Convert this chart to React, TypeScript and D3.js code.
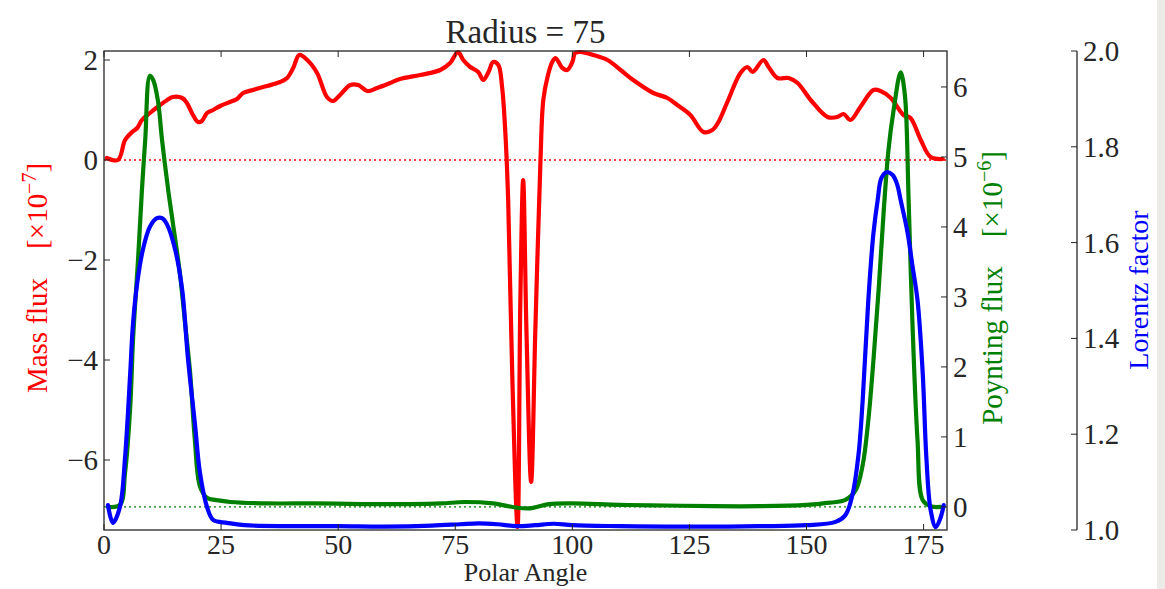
import React from "react";
import * as d3 from "d3";

// polar angle samples (deg) and values
const massAngle = [0.6, 3.0, 4.5, 6.0, 7.1, 8.1, 9.8, 12.0, 13.5, 14.7, 16.7, 17.7, 19.0, 20.1, 20.9, 22.0, 23.3, 24.8, 26.9, 28.4, 29.7, 31.8, 34.8, 37.6, 39.1, 40.4, 41.7, 43.4, 45.5, 47.6, 48.9, 50.4, 52.6, 54.3, 56.2, 58.3, 61.1, 63.2, 67.5, 71.8, 73.9, 75.6, 76.7, 78.2, 79.9, 81.0, 82.1, 83.1, 84.2, 85.0, 85.7, 86.3, 87.2, 88.3, 88.9, 89.5, 90.2, 91.2, 92.1, 93.2, 93.8, 94.7, 95.7, 96.4, 97.9, 98.9, 100.0, 100.6, 101.7, 104.5, 107.5, 110.3, 113.0, 117.3, 120.3, 122.4, 125.2, 128.0, 129.9, 131.2, 133.1, 135.9, 137.4, 138.5, 140.8, 141.9, 143.8, 146.2, 148.1, 150.9, 154.5, 156.6, 157.9, 159.4, 161.5, 164.3, 165.8, 168.0, 170.7, 172.2, 174.4, 176.5, 179.1];
const massFlux = [0.04, 0.0, 0.4, 0.56, 0.64, 0.8, 0.94, 1.1, 1.2, 1.26, 1.24, 1.14, 0.9, 0.76, 0.78, 0.94, 1.0, 1.08, 1.16, 1.22, 1.34, 1.4, 1.48, 1.56, 1.64, 1.84, 2.1, 2.0, 1.74, 1.26, 1.18, 1.3, 1.5, 1.5, 1.38, 1.44, 1.54, 1.62, 1.7, 1.8, 1.94, 2.16, 2.0, 1.86, 1.76, 1.6, 1.76, 1.96, 1.9, 1.46, 0.54, -0.8, -4.4, -7.34, -2.8, -0.4, -3.4, -6.44, -3.4, 0.0, 1.2, 1.66, 1.96, 2.04, 1.84, 1.8, 1.96, 2.14, 2.16, 2.1, 2.0, 1.8, 1.6, 1.34, 1.24, 1.1, 0.9, 0.56, 0.6, 0.76, 1.16, 1.74, 1.86, 1.76, 2.0, 1.86, 1.64, 1.64, 1.54, 1.2, 0.86, 0.86, 0.92, 0.8, 1.06, 1.4, 1.38, 1.24, 0.9, 0.84, 0.4, 0.06, 0.02];

const poyntAngle = [0.85, 3.4, 4.5, 5.6, 6.2, 7.3, 8.1, 8.8, 9.8, 10.5, 11.5, 12.4, 13.7, 14.7, 16.2, 17.3, 18.4, 19.4, 20.5, 22.0, 24.8, 27.0, 35, 45, 55, 65, 72, 77, 83, 88, 91, 95, 100, 110, 120, 130, 140, 150, 155, 158.3, 160.5, 162.0, 163.2, 164.3, 165.4, 166.5, 167.5, 168.6, 170.1, 171.0, 171.8, 172.6, 173.7, 174.8, 176.5, 178.6];
const poyntFlux = [0.0, 0.03, 0.49, 1.43, 2.39, 3.57, 4.53, 5.24, 6.16, 6.1, 5.81, 5.24, 4.53, 4.06, 3.34, 2.63, 1.91, 0.96, 0.29, 0.13, 0.09, 0.07, 0.05, 0.05, 0.04, 0.04, 0.05, 0.07, 0.05, -0.01, -0.02, 0.04, 0.05, 0.03, 0.02, 0.01, 0.01, 0.03, 0.06, 0.1, 0.24, 0.6, 1.24, 2.1, 3.1, 4.24, 5.1, 5.67, 6.21, 5.89, 4.39, 2.67, 0.96, 0.1, 0.01, 0.0];

const lorAngle = [0.85, 1.9, 3.4, 4.5, 5.6, 6.2, 7.1, 8.3, 9.8, 11.3, 12.4, 13.5, 15.2, 16.7, 17.9, 19.4, 20.5, 22.0, 23.3, 26.3, 30, 40, 50, 60, 70, 76, 80, 84, 88, 92, 96, 100, 110, 120, 130, 140, 150, 156.2, 158.3, 159.8, 161.1, 162.0, 163.2, 164.3, 165.2, 166.0, 167.1, 168.4, 169.4, 170.1, 171.6, 172.6, 173.7, 174.8, 175.6, 176.5, 177.6, 178.6, 179.3];
const lorentz = [1.052, 1.015, 1.048, 1.152, 1.328, 1.432, 1.516, 1.585, 1.633, 1.651, 1.651, 1.637, 1.585, 1.501, 1.361, 1.223, 1.119, 1.048, 1.021, 1.015, 1.01, 1.008, 1.008, 1.007, 1.009, 1.012, 1.014, 1.012, 1.008, 1.01, 1.013, 1.01, 1.008, 1.007, 1.007, 1.008, 1.01, 1.017, 1.031, 1.073, 1.157, 1.271, 1.48, 1.62, 1.689, 1.735, 1.747, 1.741, 1.72, 1.689, 1.62, 1.553, 1.48, 1.33, 1.15, 1.042, 1.006, 1.025, 1.052];

const xTicks = [0, 25, 50, 75, 100, 125, 150, 175];
const massTicks = [2, 0, -2, -4, -6];
const poyntTicks = [0, 1, 2, 3, 4, 5, 6];
const lorTicks = [1.0, 1.2, 1.4, 1.6, 1.8, 2.0];

const W = 1165;
const H = 589;
const left = 104;
const right = 947;
const top = 51;
const bottom = 530;
const lorX = 1077;
const font = "'Liberation Serif', 'Times New Roman', serif";
const ink = "#262626";

export default function App() {
  const x = d3.scaleLinear().domain([0, 180]).range([left, right]);
  const yMass = d3.scaleLinear().domain([-7.4, 2.18]).range([bottom, top]);
  const yPoynt = d3.scaleLinear().domain([-0.33, 6.514]).range([bottom, top]);
  const yLor = d3.scaleLinear().domain([1.0, 2.0]).range([bottom, top]);

  const mk = (xs: number[], ys: number[], sy: d3.ScaleLinear<number, number>) =>
    d3
      .line<number>()
      .x((_, i) => x(xs[i]))
      .y((v) => sy(v))
      .curve(d3.curveCatmullRom.alpha(0.5))(ys) || "";

  const fmt = (v: number) => (v < 0 ? "\u2212" + Math.abs(v) : String(v));

  return (
    <div style={{ position: "absolute", left: 0, top: 0 }}>
      <svg width={W} height={H} style={{ display: "block", background: "#fff" }}>
        <rect x={1157} y={0} width={8} height={H} fill="#ecebe8" />
        <defs>
          <clipPath id="plot">
            <rect x={left} y={top - 3} width={right - left} height={bottom - top + 3} />
          </clipPath>
        </defs>

        {/* zero reference lines */}
        <line x1={left} x2={right} y1={yMass(0)} y2={yMass(0)} stroke="#ff0000" strokeWidth={1.4} strokeDasharray="2,3" />
        <line x1={left} x2={right} y1={yPoynt(0)} y2={yPoynt(0)} stroke="#008000" strokeWidth={1.4} strokeDasharray="2,3" />

        <g clipPath="url(#plot)" fill="none" strokeWidth={4.2} strokeLinejoin="round" strokeLinecap="round">
          <path d={mk(massAngle, massFlux, yMass)} stroke="#ff0000" />
          <path d={mk(poyntAngle, poyntFlux, yPoynt)} stroke="#008000" />
          <path d={mk(lorAngle, lorentz, yLor)} stroke="#0000ff" />
        </g>

        {/* frame */}
        <rect x={left} y={top} width={right - left} height={bottom - top} fill="none" stroke={ink} strokeWidth={1.3} />

        {/* x ticks bottom + top */}
        {xTicks.map((t) => (
          <g key={"x" + t}>
            <line x1={x(t)} x2={x(t)} y1={bottom} y2={bottom - 6} stroke={ink} />
            <line x1={x(t)} x2={x(t)} y1={top} y2={top + 6} stroke={ink} />
            <text x={x(t)} y={554} textAnchor="middle" fontSize={28} fontFamily={font} fill={ink}>
              {t}
            </text>
          </g>
        ))}

        {/* mass flux axis */}
        {massTicks.map((t) => (
          <g key={"m" + t}>
            <line x1={left} x2={left + 6} y1={yMass(t)} y2={yMass(t)} stroke={ink} />
            <text x={left - 6} y={yMass(t) + 10} textAnchor="end" fontSize={29} fontFamily={font} fill={ink}>
              {fmt(t)}
            </text>
          </g>
        ))}

        {/* poynting axis */}
        {poyntTicks.map((t) => (
          <g key={"p" + t}>
            <line x1={right} x2={right - 6} y1={yPoynt(t)} y2={yPoynt(t)} stroke={ink} />
            <text x={right + 6} y={yPoynt(t) + 10} fontSize={29} fontFamily={font} fill={ink}>
              {t}
            </text>
          </g>
        ))}

        {/* lorentz axis */}
        <line x1={lorX} x2={lorX} y1={top} y2={bottom} stroke={ink} strokeWidth={1.3} />
        {lorTicks.map((t) => (
          <g key={"l" + t}>
            <line x1={lorX} x2={lorX - 6} y1={yLor(t)} y2={yLor(t)} stroke={ink} />
            <text x={lorX + 6} y={yLor(t) + 10} fontSize={29} fontFamily={font} fill={ink}>
              {t.toFixed(1)}
            </text>
          </g>
        ))}

        {/* labels */}
        <text x={(left + right) / 2} y={43} textAnchor="middle" fontSize={33} fontFamily={font} fill={ink}>
          Radius = 75
        </text>
        <text x={(left + right) / 2} y={581} textAnchor="middle" fontSize={26} fontFamily={font} fill={ink}>
          Polar Angle
        </text>
        <text transform="translate(47,278) rotate(-90)" textAnchor="middle" fontSize={29} fontFamily={font} fill="#ff0000" style={{ whiteSpace: "pre" }}>
          {"Mass flux    [\u00d710"}
          <tspan dy={-11} fontSize={20}>{"\u22127"}</tspan>
          <tspan dy={11}>]</tspan>
        </text>
        <text transform="translate(1002,288) rotate(-90)" textAnchor="middle" fontSize={29} fontFamily={font} fill="#008000" style={{ whiteSpace: "pre" }}>
          {"Poynting flux    [\u00d710"}
          <tspan dy={-11} fontSize={20}>{"\u22126"}</tspan>
          <tspan dy={11}>]</tspan>
        </text>
        <text transform="translate(1148,290) rotate(-90)" textAnchor="middle" fontSize={28} fontFamily={font} fill="#0000ff">
          Lorentz factor
        </text>
      </svg>
    </div>
  );
}
